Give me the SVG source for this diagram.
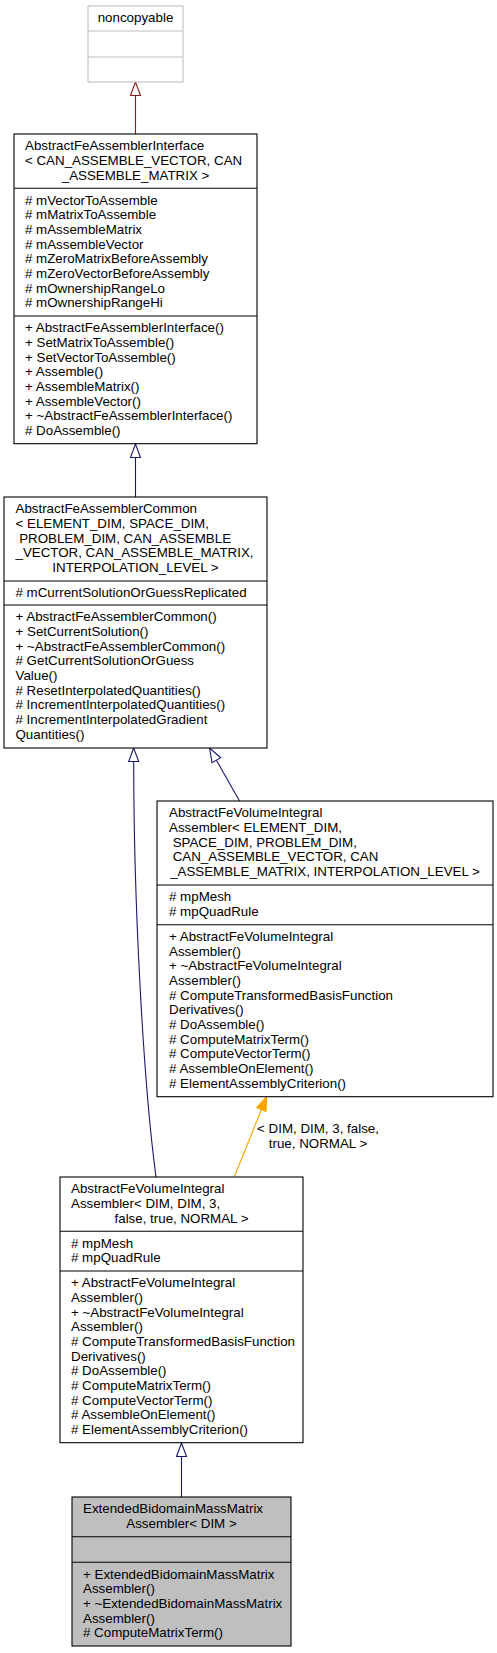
<svg xmlns="http://www.w3.org/2000/svg" width="497" height="1653" viewBox="0 0 497 1653">
<style>
text{font-family:"Liberation Sans",Arial,Helvetica,sans-serif;font-size:13.33px;fill:#000}
.c{text-anchor:middle}
.box{fill:#fff;stroke:#000;stroke-width:1.1}
.grey{fill:#fff;stroke:#bfbfbf;stroke-width:1.1}
.sel{fill:#bfbfbf;stroke:#000;stroke-width:1.1}
.sep{stroke:#000;stroke-width:1.1}
.sepg{stroke:#bfbfbf;stroke-width:1.1}
.blue{fill:none;stroke:#191970;stroke-width:1.1}
.red{fill:none;stroke:#8b1a1a;stroke-width:1.1}
.orange{fill:none;stroke:#ffa500;stroke-width:1.1}
.hb{fill:#fff;stroke:#191970;stroke-width:1.1}
.hr{fill:#fff;stroke:#8b1a1a;stroke-width:1.1}
.ho{fill:#ffa500;stroke:#ffa500;stroke-width:1.1}
</style>
<g id="connectors">
  <path class="red" d="M135.5,134 L135.5,95.5"/>
  <polygon class="hr" points="135.5,82 130.5,95.5 140.5,95.5"/>
  <path class="blue" d="M135.5,497 L135.5,457.5"/>
  <polygon class="hb" points="135.5,444 130.5,457.5 140.5,457.5"/>
  <path class="blue" d="M133.7,761.5 C133.7,900 143,1080 156,1177"/>
  <polygon class="hb" points="133.7,748 128.7,761.5 138.7,761.5"/>
  <path class="blue" d="M216.4,760.2 L239.5,801"/>
  <polygon class="hb" points="209.5,748 212.05,762.67 220.75,757.73"/>
  <path class="orange" d="M261.4,1109.5 L234.3,1177"/>
  <polygon class="ho" points="266.7,1096.5 266,1111.4 256.8,1107.6"/>
  <text class="c" x="318" y="1133">&lt; DIM, DIM, 3, false,</text>
  <text class="c" x="318" y="1148">true, NORMAL &gt;</text>
  <path class="blue" d="M181.5,1497 L181.5,1456.5"/>
  <polygon class="hb" points="181.5,1443 176.5,1456.5 186.5,1456.5"/>
</g>
<g id="noncopyable">
  <rect class="grey" x="88" y="6" width="95" height="76"/>
  <line class="sepg" x1="88" y1="31" x2="183" y2="31"/>
  <line class="sepg" x1="88" y1="57" x2="183" y2="57"/>
  <text class="c" x="135.5" y="22.3">noncopyable</text>
</g>
<g id="AbstractFeAssemblerInterface">
  <rect class="box" x="14" y="134" width="243" height="309.7"/>
  <line class="sep" x1="14" y1="188.3" x2="257" y2="188.3"/>
  <line class="sep" x1="14" y1="316" x2="257" y2="316"/>
  <text x="25" y="150.3">AbstractFeAssemblerInterface</text>
  <text x="25" y="165">&lt; CAN_ASSEMBLE_VECTOR, CAN</text>
  <text class="c" x="135.5" y="179.6">_ASSEMBLE_MATRIX &gt;</text>
  <text x="25" y="204.6"># mVectorToAssemble</text>
  <text x="25" y="219.3"># mMatrixToAssemble</text>
  <text x="25" y="233.9"># mAssembleMatrix</text>
  <text x="25" y="248.6"># mAssembleVector</text>
  <text x="25" y="263.3"># mZeroMatrixBeforeAssembly</text>
  <text x="25" y="277.9"># mZeroVectorBeforeAssembly</text>
  <text x="25" y="292.6"># mOwnershipRangeLo</text>
  <text x="25" y="307.3"># mOwnershipRangeHi</text>
  <text x="25" y="332.3">+ AbstractFeAssemblerInterface()</text>
  <text x="25" y="347">+ SetMatrixToAssemble()</text>
  <text x="25" y="361.6">+ SetVectorToAssemble()</text>
  <text x="25" y="376.3">+ Assemble()</text>
  <text x="25" y="391">+ AssembleMatrix()</text>
  <text x="25" y="405.6">+ AssembleVector()</text>
  <text x="25" y="420.3">+ ~AbstractFeAssemblerInterface()</text>
  <text x="25" y="435"># DoAssemble()</text>
</g>
<g id="AbstractFeAssemblerCommon">
  <rect class="box" x="4" y="497" width="263" height="251"/>
  <line class="sep" x1="4" y1="581" x2="267" y2="581"/>
  <line class="sep" x1="4" y1="605" x2="267" y2="605"/>
  <text x="15.5" y="513.3">AbstractFeAssemblerCommon</text>
  <text x="15.5" y="528">&lt; ELEMENT_DIM, SPACE_DIM,</text>
  <text x="19.2" y="542.6">PROBLEM_DIM, CAN_ASSEMBLE</text>
  <text x="15.5" y="557.3">_VECTOR, CAN_ASSEMBLE_MATRIX,</text>
  <text class="c" x="135.5" y="572">INTERPOLATION_LEVEL &gt;</text>
  <text x="15.5" y="597.3"># mCurrentSolutionOrGuessReplicated</text>
  <text x="15.5" y="621.3">+ AbstractFeAssemblerCommon()</text>
  <text x="15.5" y="636">+ SetCurrentSolution()</text>
  <text x="15.5" y="650.6">+ ~AbstractFeAssemblerCommon()</text>
  <text x="15.5" y="665.3"># GetCurrentSolutionOrGuess</text>
  <text x="15.5" y="680">Value()</text>
  <text x="15.5" y="694.6"># ResetInterpolatedQuantities()</text>
  <text x="15.5" y="709.3"># IncrementInterpolatedQuantities()</text>
  <text x="15.5" y="724"># IncrementInterpolatedGradient</text>
  <text x="15.5" y="738.7">Quantities()</text>
</g>
<g id="AbstractFeVolumeIntegralAssembler">
  <rect class="box" x="157" y="801" width="336" height="295.7"/>
  <line class="sep" x1="157" y1="885" x2="493" y2="885"/>
  <line class="sep" x1="157" y1="924.7" x2="493" y2="924.7"/>
  <text x="169" y="817.3">AbstractFeVolumeIntegral</text>
  <text x="169" y="832">Assembler&lt; ELEMENT_DIM,</text>
  <text x="172.7" y="846.6">SPACE_DIM, PROBLEM_DIM,</text>
  <text x="172.7" y="861.3">CAN_ASSEMBLE_VECTOR, CAN</text>
  <text class="c" x="325" y="876">_ASSEMBLE_MATRIX, INTERPOLATION_LEVEL &gt;</text>
  <text x="169" y="901.3"># mpMesh</text>
  <text x="169" y="916"># mpQuadRule</text>
  <text x="169" y="941">+ AbstractFeVolumeIntegral</text>
  <text x="169" y="955.7">Assembler()</text>
  <text x="169" y="970.3">+ ~AbstractFeVolumeIntegral</text>
  <text x="169" y="985">Assembler()</text>
  <text x="169" y="999.7"># ComputeTransformedBasisFunction</text>
  <text x="169" y="1014.3">Derivatives()</text>
  <text x="169" y="1029"># DoAssemble()</text>
  <text x="169" y="1043.7"># ComputeMatrixTerm()</text>
  <text x="169" y="1058.4"># ComputeVectorTerm()</text>
  <text x="169" y="1073"># AssembleOnElement()</text>
  <text x="169" y="1087.7"># ElementAssemblyCriterion()</text>
</g>
<g id="AbstractFeVolumeIntegralAssemblerDIM">
  <rect class="box" x="60" y="1177" width="243" height="265.7"/>
  <line class="sep" x1="60" y1="1231.3" x2="303" y2="1231.3"/>
  <line class="sep" x1="60" y1="1271" x2="303" y2="1271"/>
  <text x="71" y="1193.3">AbstractFeVolumeIntegral</text>
  <text x="71" y="1208">Assembler&lt; DIM, DIM, 3,</text>
  <text class="c" x="181.5" y="1222.6">false, true, NORMAL &gt;</text>
  <text x="71" y="1247.6"># mpMesh</text>
  <text x="71" y="1262.3"># mpQuadRule</text>
  <text x="71" y="1287.3">+ AbstractFeVolumeIntegral</text>
  <text x="71" y="1302">Assembler()</text>
  <text x="71" y="1316.6">+ ~AbstractFeVolumeIntegral</text>
  <text x="71" y="1331.3">Assembler()</text>
  <text x="71" y="1346"># ComputeTransformedBasisFunction</text>
  <text x="71" y="1360.6">Derivatives()</text>
  <text x="71" y="1375.3"># DoAssemble()</text>
  <text x="71" y="1390"># ComputeMatrixTerm()</text>
  <text x="71" y="1404.7"># ComputeVectorTerm()</text>
  <text x="71" y="1419.3"># AssembleOnElement()</text>
  <text x="71" y="1434"># ElementAssemblyCriterion()</text>
</g>
<g id="ExtendedBidomainMassMatrixAssembler">
  <rect class="sel" x="72" y="1497" width="219" height="149"/>
  <line class="sep" x1="72" y1="1536.7" x2="291" y2="1536.7"/>
  <line class="sep" x1="72" y1="1562.3" x2="291" y2="1562.3"/>
  <text x="83" y="1513.3">ExtendedBidomainMassMatrix</text>
  <text class="c" x="181.5" y="1528">Assembler&lt; DIM &gt;</text>
  <text x="83" y="1578.6">+ ExtendedBidomainMassMatrix</text>
  <text x="83" y="1593.3">Assembler()</text>
  <text x="83" y="1607.9">+ ~ExtendedBidomainMassMatrix</text>
  <text x="83" y="1622.6">Assembler()</text>
  <text x="83" y="1637.3"># ComputeMatrixTerm()</text>
</g>
</svg>
